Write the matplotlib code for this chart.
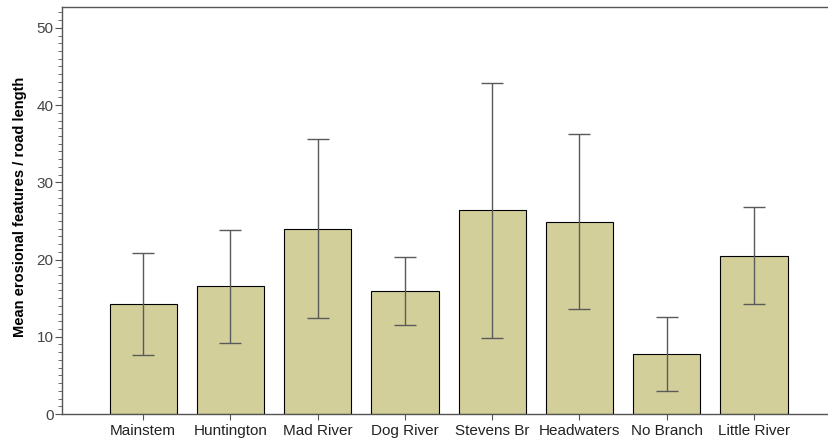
import matplotlib.pyplot as plt
from matplotlib.ticker import MultipleLocator

plt.rcParams['font.family'] = ['Liberation Sans', 'DejaVu Sans']

categories = ['Mainstem', 'Huntington', 'Mad River', 'Dog River',
              'Stevens Br', 'Headwaters', 'No Branch', 'Little River']
means = [14.3, 16.6, 24.0, 15.9, 26.4, 24.9, 7.8, 20.5]
err_hi = [20.8, 23.8, 35.6, 20.3, 42.8, 36.2, 12.5, 26.8]
err_lo = [7.7, 9.2, 12.4, 11.5, 9.9, 13.6, 3.0, 14.3]

fig = plt.figure(figsize=(8.29, 4.48), dpi=100)
ax = fig.add_axes([62/829, 34/448, 1 - 62/829, 407/448])

x = list(range(len(categories)))
yerr = [[m - lo for m, lo in zip(means, err_lo)],
        [hi - m for m, hi in zip(means, err_hi)]]
ax.bar(x, means, width=0.77, color='#d3cf9a', edgecolor='black', linewidth=0.8, zorder=2)
ax.errorbar(x, means, yerr=yerr, fmt='none', ecolor='#5a5a5a', elinewidth=1.0,
            capsize=8, capthick=1.0, zorder=3)

ax.set_xlim(-0.93, 7.86)
ax.set_ylim(0, 52.7)
ax.set_xticks(x)
ax.set_xticklabels(categories, fontsize=11)
ax.yaxis.set_major_locator(MultipleLocator(10))
ax.yaxis.set_minor_locator(MultipleLocator(1))
ax.tick_params(axis='y', which='major', length=5, labelsize=11, color='#555555',
               labelcolor='#444444', pad=1)
ax.tick_params(axis='y', which='minor', length=3, color='#555555')
ax.tick_params(axis='x', length=4, color='#555555', labelcolor='#222222')
ax.set_ylabel('Mean erosional features / road length', fontsize=10.5,
              fontweight='bold')
ax.yaxis.set_label_coords(-0.046, 0.51)

for s in ['left', 'bottom', 'top']:
    ax.spines[s].set_color('#555555')
    ax.spines[s].set_linewidth(1.0)
ax.spines['right'].set_visible(False)

fig.savefig('out.png', dpi=100, facecolor='white')
